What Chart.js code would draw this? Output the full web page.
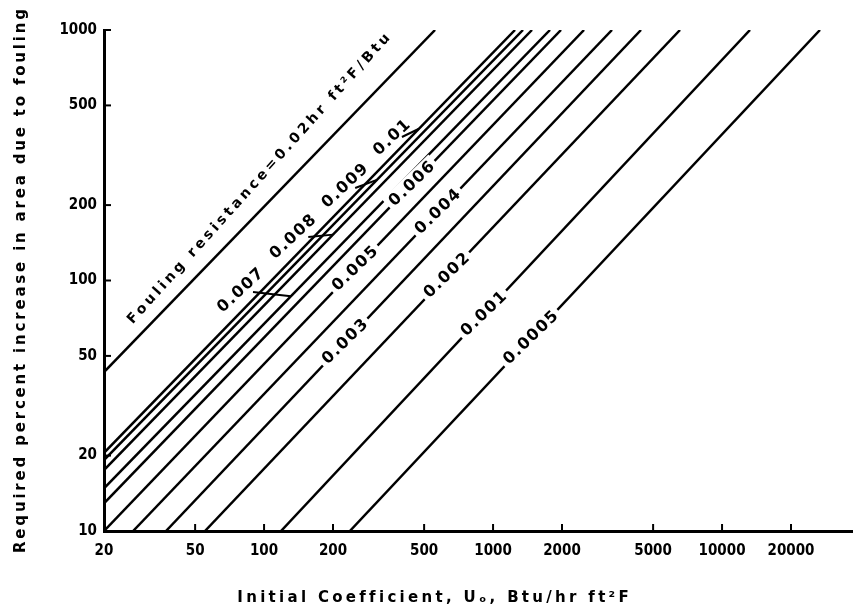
<!DOCTYPE html>
<html><head><meta charset="utf-8">
<script src="https://cdn.jsdelivr.net/npm/chart.js@4.4.1/dist/chart.umd.min.js"></script>
<style>html,body{margin:0;padding:0;background:#fff}#wrap{width:855px;height:613px}</style>
</head><body><div id="wrap"><canvas id="c" width="855" height="613"></canvas></div>
<script>
const resistances = ['0.02','0.01','0.009','0.008','0.007','0.006','0.005','0.004','0.003','0.002','0.001','0.0005'];
const startU   = [20, 20, 20, 20, 20, 20, 20, 26.8, 37.3, 55.2, 118.6, 237];
const startPct = [43.1, 20.5, 19.2, 17.5, 14.8, 12.9, 10, 10, 10, 10, 10, 10];
const endU     = [558, 1247, 1351, 1479, 1773, 1980, 2496, 3306, 4426, 6552, 13244, 26770];
const endPct   = [1000, 1000, 1000, 1000, 1000, 1000, 1000, 1000, 1000, 1000, 1000, 1000];
const xTicks = [20, 50, 100, 200, 500, 1000, 2000, 5000, 10000, 20000];
const yTicks = [10, 20, 50, 100, 200, 500, 1000];
const xMin = 20, xMax = 36940, yMin = 10, yMax = 1000;

// labels written inside a gap of their line: [line label, U where the gap is]
const inlineLabels = [['0.006', 443], ['0.005', 250], ['0.004', 575], ['0.003', 226], ['0.002', 629], ['0.001', 913], ['0.0005', 1464]];
// labels with a leader: [text, label U, label %, leader start U, leader start %, leader end U (on its line)]
const leaderLabels = [['0.01', 362, 371, 400, 374, 475], ['0.009', 226, 238, 250, 234, 311], ['0.008', 134, 149, 156, 149, 200], ['0.007', 79, 91, 89.5, 90, 131]];
const mainLabel = {text: 'Fouling resistance=0.02hr ft\u00B2F/Btu', u: 95, pct: 254};
const xTitle = 'Initial Coefficient, U\u2092, Btu/hr ft\u00B2F';
const yTitle = 'Required percent increase in area due to fouling';

const FONT = '"DejaVu Sans", "Liberation Sans", sans-serif';
const TICKFONT = '"DejaVu Sans Condensed", "DejaVu Sans", sans-serif';

function lineAt(i, u) {
  const lx0 = Math.log10(startU[i]), lx1 = Math.log10(endU[i]);
  const ly0 = Math.log10(startPct[i]), ly1 = Math.log10(endPct[i]);
  const t = (Math.log10(u) - lx0) / (lx1 - lx0);
  return Math.pow(10, ly0 + t * (ly1 - ly0));
}

function drawText(ctx, text, cx, cy, angle, font, spacing, target, bg) {
  ctx.save();
  ctx.translate(cx, cy);
  ctx.rotate(angle * Math.PI / 180);
  ctx.font = font;
  ctx.letterSpacing = '0px';
  let sp = spacing;
  if (target) {
    const w0 = ctx.measureText(text).width;
    sp = Math.max(0, (target - w0) / ([...text].length - 1));
  }
  ctx.letterSpacing = sp + 'px';
  const w = ctx.measureText(text).width - sp;
  ctx.textAlign = 'center';
  ctx.textBaseline = 'middle';
  if (bg) {
    ctx.fillStyle = '#fff';
    ctx.fillRect(-w / 2 - 4, -10, w + 8, 20);
  }
  ctx.fillStyle = '#000';
  ctx.fillText(text, sp / 2, 0);
  ctx.restore();
}

const overlay = {
  id: 'overlay',
  afterDatasetsDraw(chart) {
    const {ctx, chartArea: a} = chart;
    const x = chart.scales.x, y = chart.scales.y;
    ctx.save();
    ctx.strokeStyle = '#000';
    ctx.lineWidth = 2;
    xTicks.forEach(v => {
      const px = x.getPixelForValue(v);
      ctx.beginPath(); ctx.moveTo(px, a.bottom); ctx.lineTo(px, a.bottom - 7); ctx.stroke();
    });
    yTicks.forEach(v => {
      const py = y.getPixelForValue(v);
      ctx.beginPath(); ctx.moveTo(a.left, py); ctx.lineTo(a.left + 7, py); ctx.stroke();
    });
    const numFont = 'bold 16px ' + FONT;
    inlineLabels.forEach(([t, u]) => {
      const i = resistances.indexOf(t);
      drawText(ctx, t, x.getPixelForValue(u), y.getPixelForValue(lineAt(i, u)), -44, numFont, 1.5, 0, true);
    });
    ctx.lineWidth = 2;
    leaderLabels.forEach(([t, lu, lp, su, sp, eu]) => {
      const i = resistances.indexOf(t);
      ctx.beginPath();
      ctx.moveTo(x.getPixelForValue(su), y.getPixelForValue(sp));
      ctx.lineTo(x.getPixelForValue(eu), y.getPixelForValue(lineAt(i, eu)));
      ctx.stroke();
      drawText(ctx, t, x.getPixelForValue(lu), y.getPixelForValue(lp), -43, numFont, 1.5, 0, false);
    });
    drawText(ctx, mainLabel.text, x.getPixelForValue(mainLabel.u), y.getPixelForValue(mainLabel.pct), -48, 'bold 14px ' + FONT, 0, 385, false);
    // axis titles
    drawText(ctx, xTitle, 433, 598, 0, 'bold 15px ' + FONT, 0, 390, false);
    drawText(ctx, yTitle, 21, 281, -90, 'bold 15px ' + FONT, 0, 544, false);
    ctx.restore();
  }
};

new Chart(document.getElementById('c'), {
  type: 'line',
  data: {
    datasets: resistances.map((r, i) => ({
      label: r,
      data: [{x: startU[i], y: startPct[i]}, {x: endU[i], y: endPct[i]}],
      borderColor: '#000', borderWidth: 2.5, pointRadius: 0, fill: false, tension: 0
    }))
  },
  options: {
    responsive: false, animation: false, devicePixelRatio: 1,
    layout: {padding: {top: 30, right: 3, left: 0, bottom: 0}},
    plugins: {legend: {display: false}, tooltip: {enabled: false}},
    scales: {
      x: {
        type: 'logarithmic', min: xMin, max: xMax,
        afterBuildTicks: s => { s.ticks = xTicks.map(v => ({value: v})); },
        afterFit: s => { s.height = 82; s.paddingLeft = 0; s.paddingRight = 0; },
        grid: {display: true, drawOnChartArea: false, drawTicks: false},
        border: {display: true, color: '#000', width: 3},
        ticks: {color: '#000', font: {family: TICKFONT, weight: 'bold', size: 15}, padding: 11, maxRotation: 0, autoSkip: false, callback: v => String(v)}
      },
      y: {
        type: 'logarithmic', min: yMin, max: yMax,
        afterBuildTicks: s => { s.ticks = yTicks.map(v => ({value: v})); },
        afterFit: s => { s.width = 104; s.paddingTop = 0; s.paddingBottom = 0; },
        grid: {display: true, drawOnChartArea: false, drawTicks: false},
        border: {display: true, color: '#000', width: 3},
        ticks: {color: '#000', font: {family: TICKFONT, weight: 'bold', size: 15}, padding: 7, autoSkip: false, callback: v => String(v)}
      }
    }
  },
  plugins: [overlay]
});
</script></body></html>
